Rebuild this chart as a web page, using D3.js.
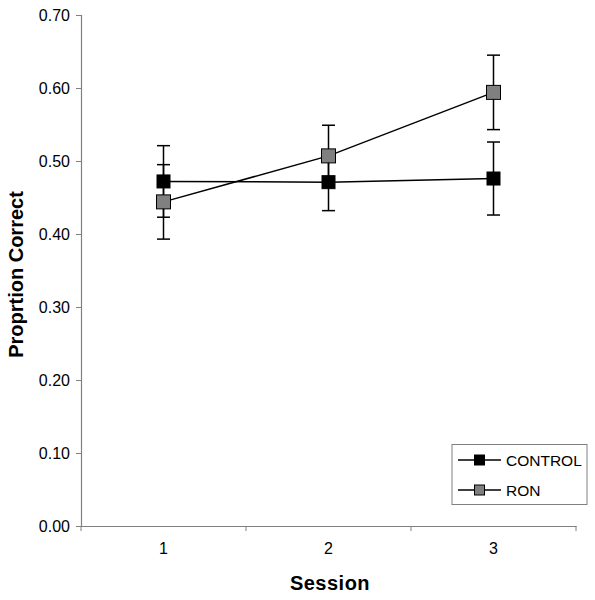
<!DOCTYPE html>
<html>
<head>
<meta charset="utf-8">
<script src="https://cdn.jsdelivr.net/npm/d3@7"></script>
<style>
  html, body { margin: 0; padding: 0; background: #fff; }
  svg { display: block; font-family: Arial, "Liberation Sans", sans-serif; }
</style>
</head>
<body>
<svg id="chart" width="595" height="600"></svg>
<script>
// ---- data ----
const sessions = ["1", "2", "3"];
const controlMeans = [0.472, 0.471, 0.476];
const controlErrors = [0.049, 0.039, 0.050];
const ronMeans = [0.444, 0.507, 0.594];
const ronErrors = [0.051, 0.042, 0.051];
const yTicks = [0, 0.1, 0.2, 0.3, 0.4, 0.5, 0.6, 0.7];
const seriesNames = ["CONTROL", "RON"];

(function () {
const series = [
  { name: seriesNames[0], means: controlMeans, errs: controlErrors, fill: "#000000", size: 13 },
  { name: seriesNames[1], means: ronMeans, errs: ronErrors, fill: "#808080", size: 14 }
];

const svg = d3.select("#chart");
const pLeft = 81, pRight = 576, pTop = 15, pBottom = 526;

const x = d3.scaleBand().domain(sessions).range([pLeft, pRight]).padding(0);
const y = d3.scaleLinear().domain([0, 0.7]).range([pBottom, pTop]);
const cx = s => x(s) + x.bandwidth() / 2;

// y axis
const yAxis = svg.append("g")
  .attr("transform", `translate(${pLeft},0)`)
  .call(d3.axisLeft(y).tickValues(yTicks).tickFormat(d3.format(".2f")).tickSize(5).tickPadding(6));
yAxis.select(".domain").attr("stroke", "#808080").attr("stroke-width", 1.2);
yAxis.selectAll(".tick line").attr("stroke", "#808080");
yAxis.selectAll(".tick text").attr("font-size", 16).attr("fill", "#000")
  .attr("font-family", "Arial, 'Liberation Sans', sans-serif");

// x axis
const xAxis = svg.append("g")
  .attr("transform", `translate(0,${pBottom})`)
  .call(d3.axisBottom(x).tickSize(0).tickPadding(17));
xAxis.select(".domain").attr("stroke", "#808080").attr("stroke-width", 1.2);
xAxis.selectAll(".tick text").attr("font-size", 16).attr("fill", "#000")
  .attr("font-family", "Arial, 'Liberation Sans', sans-serif");
xAxis.selectAll("line.bound")
  .data(sessions.map(s => x(s)).concat([pRight]))
  .enter().append("line").attr("class", "bound")
  .attr("x1", d => d).attr("x2", d => d)
  .attr("y1", 0).attr("y2", 5)
  .attr("stroke", "#808080");

// axis titles
svg.append("text")
  .attr("transform", `translate(23,${(pTop + pBottom) / 2 + 4}) rotate(-90)`)
  .attr("text-anchor", "middle")
  .attr("font-size", 20).attr("font-weight", "bold")
  .text("Proprtion Correct");
svg.append("text")
  .attr("x", 330).attr("y", 590)
  .attr("text-anchor", "middle")
  .attr("font-size", 20).attr("font-weight", "bold")
  .attr("letter-spacing", 0.5)
  .text("Session");

const line = d3.line().x((d, i) => cx(sessions[i])).y(d => y(d));

// error bars
const capW = 6.5;
series.forEach(s => {
  const g = svg.append("g");
  sessions.forEach((sess, i) => {
    const xc = cx(sess);
    const y1 = y(s.means[i] + s.errs[i]);
    const y2 = y(s.means[i] - s.errs[i]);
    g.append("line").attr("x1", xc).attr("x2", xc).attr("y1", y1).attr("y2", y2)
      .attr("stroke", "#000").attr("stroke-width", 1.5);
    [y1, y2].forEach(yy => g.append("line")
      .attr("x1", xc - capW).attr("x2", xc + capW).attr("y1", yy).attr("y2", yy)
      .attr("stroke", "#000").attr("stroke-width", 1.5));
  });
});

// lines and markers
series.forEach(s => {
  svg.append("path").datum(s.means)
    .attr("d", line).attr("fill", "none").attr("stroke", "#000").attr("stroke-width", 1.5);
});
series.forEach(s => {
  svg.append("g").selectAll("rect").data(s.means).enter().append("rect")
    .attr("x", (d, i) => cx(sessions[i]) - s.size / 2)
    .attr("y", d => y(d) - s.size / 2)
    .attr("width", s.size).attr("height", s.size)
    .attr("fill", s.fill).attr("stroke", "#000").attr("stroke-width", 1);
});

// legend
const lg = svg.append("g");
lg.append("rect").attr("x", 452).attr("y", 444.5).attr("width", 135).attr("height", 60)
  .attr("fill", "#fff").attr("stroke", "#808080").attr("stroke-width", 1);
series.forEach((s, i) => {
  const yy = 460 + i * 30;
  lg.append("line").attr("x1", 458).attr("x2", 501).attr("y1", yy).attr("y2", yy)
    .attr("stroke", "#000").attr("stroke-width", 1.5);
  lg.append("rect").attr("x", 479.5 - 5).attr("y", yy - 5).attr("width", 10).attr("height", 10)
    .attr("fill", s.fill).attr("stroke", "#000").attr("stroke-width", 1);
  lg.append("text").attr("x", 506).attr("y", yy + 6).attr("font-size", 15.5).text(s.name);
});
})();
</script>
</body>
</html>
